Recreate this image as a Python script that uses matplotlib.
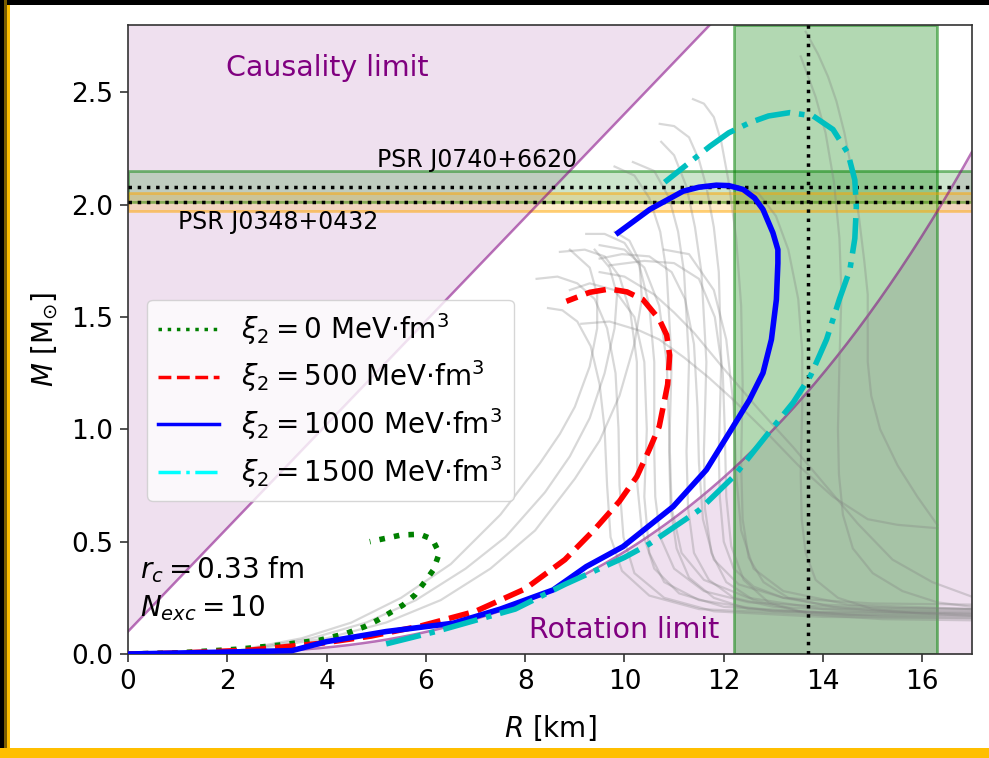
import numpy as np
import matplotlib
matplotlib.use("Agg")
import matplotlib.pyplot as plt
from matplotlib.lines import Line2D
from matplotlib.patches import Rectangle

# ---------------- data ----------------
# Mass-radius sequences for the four xi_2 couplings (R in km, M in solar masses)
xi0_r = [0.0, 1.0, 2.25, 3.06, 3.87, 4.40, 4.77, 5.04, 5.54, 5.78, 5.98, 6.15, 6.27, 6.13, 5.88, 5.51, 4.87]
xi0_m = [0.0, 0.005, 0.022, 0.040, 0.062, 0.092, 0.122, 0.152, 0.218, 0.263, 0.322, 0.374, 0.449, 0.511, 0.533, 0.530, 0.500]

xi500_r = [0.0, 1.0, 2.5, 3.9, 4.9, 5.9, 7.0, 8.0, 8.8, 9.4, 9.9, 10.25, 10.5, 10.7, 10.87, 10.91, 10.85, 10.7,
           10.37, 10.05, 9.7, 9.3, 8.83]
xi500_m = [0.0, 0.004, 0.018, 0.048, 0.08, 0.125, 0.19, 0.29, 0.42, 0.555, 0.68, 0.79, 0.91, 1.013, 1.2, 1.33, 1.42, 1.49,
           1.578, 1.612, 1.625, 1.61, 1.57]

xi1000_r = [0.0, 1.85, 3.3, 4.0, 5.2, 6.55, 7.5, 8.56, 9.23, 9.97, 10.98, 11.65, 12.19, 12.52, 12.79, 12.96, 13.06,
            13.09, 13.09, 12.99, 12.79, 12.62, 12.39, 12.1, 11.85, 11.5, 11.18, 10.51, 9.87]
xi1000_m = [0.0, 0.008, 0.015, 0.055, 0.10, 0.137, 0.20, 0.285, 0.389, 0.478, 0.656, 0.82, 1.013, 1.132, 1.251, 1.40, 1.578,
            1.74, 1.80, 1.875, 1.979, 2.03, 2.068, 2.085, 2.087, 2.078, 2.06, 1.979, 1.875]

xi1500_r = [5.2, 6.2, 7.0, 7.8, 8.8, 10.0, 10.5, 11.5, 12.2, 12.85, 13.4, 13.75, 14.07, 14.33, 14.54, 14.64, 14.67,
            14.64, 14.5, 14.2, 13.8, 13.33, 12.9, 12.52, 12.1, 11.72, 10.81]
xi1500_m = [0.045, 0.10, 0.15, 0.20, 0.31, 0.43, 0.49, 0.64, 0.79, 0.97, 1.12, 1.24, 1.40, 1.58, 1.71, 1.85, 1.99,
            2.11, 2.23, 2.335, 2.395, 2.41, 2.395, 2.365, 2.32, 2.26, 2.10]

xi_values = [0, 500, 1000, 1500]

# Background equation-of-state sequences (R, M)
eos_b01 = [(16.3, 0.575), (15.9, 0.7), (15.5, 0.84), (15.15, 1.0), (14.97, 1.15), (14.9, 1.3), (14.9, 1.45), (14.9, 1.6),
           (14.83, 1.75), (14.72, 1.95), (14.58, 2.15), (14.43, 2.32), (14.27, 2.46), (14.1, 2.57), (13.9, 2.67), (13.65, 2.77)]
eos_b02 = [(17.0, 0.21), (16.3, 0.23), (15.6, 0.28), (15.0, 0.36), (14.6, 0.47), (14.4, 0.62), (14.32, 0.8), (14.3, 1.0),
           (14.33, 1.3), (14.37, 1.6), (14.33, 1.85), (14.22, 2.1), (14.05, 2.32), (13.85, 2.48), (13.55, 2.66)]
eos_b03 = [(17.0, 0.17), (16.0, 0.18), (15.0, 0.2), (14.3, 0.25), (13.85, 0.33), (13.65, 0.45), (13.57, 0.6), (13.55, 0.8),
           (13.58, 1.1), (13.58, 1.35), (13.5, 1.58), (13.3, 1.8), (13.05, 1.95), (12.7, 2.05), (12.2, 2.09)]
eos_b04 = [(17.0, 0.18), (15.5, 0.185), (14.2, 0.21), (13.3, 0.25), (12.8, 0.32), (12.5, 0.43), (12.38, 0.6), (12.35, 0.85),
           (12.38, 1.2), (12.35, 1.55), (12.25, 1.85), (12.1, 2.1), (11.95, 2.28), (11.8, 2.39), (11.6, 2.45), (11.38, 2.47)]
eos_b05 = [(17.0, 0.2), (15.5, 0.205), (14.0, 0.22), (13.2, 0.25), (12.6, 0.3), (12.2, 0.38), (12.0, 0.5), (11.92, 0.7),
           (11.9, 0.9), (11.95, 1.3), (11.9, 1.7), (11.8, 1.9), (11.65, 2.08), (11.5, 2.2), (11.3, 2.3), (11.0, 2.35), (10.71, 2.36)]
eos_b06 = [(17.0, 0.16), (15.2, 0.165), (13.5, 0.19), (12.6, 0.24), (12.05, 0.32), (11.75, 0.45), (11.62, 0.65), (11.6, 0.9),
           (11.65, 1.3), (11.55, 1.7), (11.42, 1.9), (11.25, 2.08), (11.0, 2.22), (10.74, 2.28)]
eos_b07 = [(17.0, 0.19), (15.0, 0.19), (13.0, 0.21), (12.2, 0.25), (11.7, 0.33), (11.4, 0.45), (11.28, 0.65), (11.25, 0.9),
           (11.3, 1.3), (11.2, 1.7), (11.08, 1.88), (10.9, 2.03), (10.6, 2.15), (10.17, 2.19)]
eos_b08 = [(17.0, 0.17), (14.5, 0.175), (12.5, 0.2), (11.8, 0.25), (11.3, 0.34), (11.05, 0.47), (10.93, 0.65), (10.9, 0.9),
           (10.95, 1.3), (10.85, 1.7), (10.72, 1.88), (10.5, 2.03), (10.2, 2.13), (9.8, 2.17)]
eos_b09 = [(17.0, 0.2), (14.5, 0.205), (12.5, 0.23), (11.6, 0.28), (11.0, 0.38), (10.72, 0.52), (10.62, 0.7), (10.6, 0.9),
           (10.6, 1.3), (10.5, 1.55), (10.3, 1.73), (10.0, 1.83), (9.6, 1.87), (9.23, 1.87)]
eos_b10 = [(17.0, 0.18), (14.0, 0.185), (12.0, 0.21), (11.1, 0.27), (10.6, 0.38), (10.35, 0.55), (10.26, 0.75), (10.25, 1.0),
           (10.25, 1.3), (10.12, 1.52), (9.9, 1.68), (9.6, 1.77), (9.2, 1.8), (8.7, 1.79)]
eos_b11 = [(17.0, 0.16), (14.0, 0.165), (11.8, 0.19), (10.8, 0.25), (10.2, 0.36), (9.98, 0.52), (9.9, 0.75), (9.88, 1.0),
           (9.82, 1.25), (9.65, 1.45), (9.4, 1.58), (9.05, 1.65), (8.65, 1.68), (8.23, 1.67)]
eos_b12 = [(17.0, 0.17), (14.0, 0.175), (11.5, 0.2), (10.5, 0.26), (9.95, 0.37), (9.72, 0.52), (9.65, 0.75), (9.6, 1.0),
           (9.5, 1.2), (9.32, 1.37), (9.05, 1.48), (8.75, 1.53), (8.46, 1.54)]
eos_b13 = [(17.0, 0.22), (15.0, 0.225), (13.2, 0.25), (12.3, 0.31), (11.8, 0.42), (11.58, 0.6), (11.5, 0.85), (11.47, 1.1),
           (11.4, 1.38), (11.22, 1.58), (10.95, 1.7), (10.5, 1.77), (9.95, 1.78), (9.5, 1.76)]
eos_b14 = [(17.0, 0.15), (15.2, 0.155), (13.8, 0.175), (12.9, 0.23), (12.4, 0.33), (12.15, 0.48), (12.05, 0.7), (12.02, 1.0),
           (11.98, 1.25), (11.82, 1.5), (11.5, 1.67), (11.0, 1.74), (10.4, 1.75), (9.7, 1.73)]
eos_b15 = [(16.3, 0.56), (15.5, 0.575), (14.9, 0.6), (14.2, 0.7), (13.5, 0.84), (12.8, 1.0), (12.2, 1.13), (11.7, 1.23),
           (11.2, 1.32), (10.7, 1.4), (10.3, 1.44), (9.7, 1.48), (9.13, 1.47)]
eos_b16 = [(17.0, 0.255), (16.2, 0.32), (15.4, 0.42), (14.7, 0.58), (14.07, 0.745), (13.4, 0.92), (12.7, 1.09), (12.0, 1.27),
           (11.4, 1.43), (11.0, 1.52), (10.6, 1.6), (10.0, 1.68), (9.5, 1.7)]
eos_b17 = [(17.0, 0.19), (14.0, 0.2), (12.5, 0.25), (11.6, 0.33), (11.15, 0.45), (10.95, 0.65), (10.9, 1.0), (10.85, 1.3),
           (10.7, 1.55), (10.4, 1.72), (10.0, 1.8), (9.5, 1.82)]
eos_b18 = [(17.0, 0.2), (14.5, 0.22), (13.2, 0.28), (12.6, 0.38), (12.35, 0.55), (12.25, 0.8), (12.2, 1.1), (12.05, 1.4),
           (11.8, 1.62), (11.3, 1.78), (10.8, 1.8)]
eos_b19 = [(17.0, 0.18), (13.0, 0.19), (11.5, 0.24), (10.8, 0.32), (10.5, 0.45), (10.4, 0.7), (10.45, 1.0), (10.4, 1.3),
           (10.2, 1.5), (9.8, 1.62), (9.3, 1.65), (8.9, 1.62)]
eos_a01 = [(2.3, 0.02), (3.5, 0.07), (4.5, 0.14), (5.5, 0.25), (6.5, 0.4), (7.5, 0.62), (8.3, 0.85), (8.7, 0.98), (9.0, 1.1),
           (9.3, 1.28), (9.45, 1.45), (9.45, 1.6), (9.3, 1.72), (8.9, 1.8)]
eos_a02 = [(2.4, 0.02), (3.7, 0.07), (4.8, 0.14), (5.8, 0.24), (6.8, 0.38), (7.6, 0.52), (8.4, 0.72), (8.9, 0.88), (9.3, 1.05),
           (9.6, 1.25), (9.8, 1.45), (9.85, 1.6), (9.7, 1.72), (9.4, 1.8)]
eos_a03 = [(2.5, 0.02), (4.0, 0.07), (5.2, 0.14), (6.3, 0.24), (7.3, 0.38), (8.2, 0.55), (9.0, 0.78), (9.5, 0.95), (9.9, 1.15),
           (10.2, 1.38), (10.35, 1.58), (10.3, 1.75), (10.1, 1.84), (9.8, 1.88)]

eos_curves = [eos_b01, eos_b02, eos_b03, eos_b04, eos_b05, eos_b06, eos_b07, eos_b08,
              eos_b09, eos_b10, eos_b11, eos_b12, eos_b13, eos_b14, eos_b15, eos_b16,
              eos_b17, eos_b18, eos_b19, eos_a01, eos_a02, eos_a03]

# Observational constraints
psr_j0740_mass = 2.08
psr_j0740_err = 0.07
psr_j0348_mass = 2.01
psr_j0348_err = 0.04
nicer_radius = 13.7
nicer_radius_lo = 12.2
nicer_radius_hi = 16.3

# Limits: causality line end points, Kepler rotation coefficient (716 Hz pulsar)
causality_r = [0.0, 17.0]
causality_m = [0.1, 0.1 + 17.0 / 4.34]
rotation_coeff = 0.455

x_ticks = [0, 2, 4, 6, 8, 10, 12, 14, 16]
y_ticks = [0.0, 0.5, 1.0, 1.5, 2.0, 2.5]

# ---------------- figure ----------------
W, H = 989, 758
fig = plt.figure(figsize=(W / 100, H / 100), dpi=100, facecolor="white")


def px_rect(x0, y0, x1, y1, color):
    fig.patches.append(Rectangle((x0 / W, 1 - y1 / H), (x1 - x0) / W, (y1 - y0) / H,
                                 transform=fig.transFigure, facecolor=color,
                                 edgecolor="none", zorder=-10))


# frame decoration around the canvas
px_rect(0, 0, W, 5, "black")
px_rect(0, 0, 4, H, "black")
px_rect(4, 0, 7, H, "#7a5c00")
px_rect(7, 5, 10, H, "#ffbf00")
px_rect(0, 748, W, H, "#ffbf00")

ax = fig.add_axes([128 / W, 1 - 654 / H, (972 - 128) / W, (654 - 25) / H])
ax.set_xlim(0, 17)
ax.set_ylim(0, 2.8)

# causality and rotation limits
cr = np.array(causality_r)
cm = np.array(causality_m)
ax.fill_between(cr, cm, 3.0, color="purple", alpha=0.12, lw=0)
ax.plot(cr, cm, color="purple", alpha=0.55, lw=1.8)

r_rot = np.linspace(0, 17, 400)
m_rot = rotation_coeff * (r_rot / 10.0) ** 3
ax.fill_between(r_rot, 0, m_rot, color="purple", alpha=0.12, lw=0)
ax.plot(r_rot, m_rot, color="purple", alpha=0.55, lw=1.8)

# NICER radius band and pulsar mass bands
ax.axvspan(nicer_radius_lo, nicer_radius_hi, facecolor=(0, 0.5, 0, 0.3),
           edgecolor=(0, 0.5, 0, 0.5), lw=2)
ax.axhspan(psr_j0740_mass - psr_j0740_err, psr_j0740_mass + psr_j0740_err,
           facecolor=(0, 0.5, 0, 0.2), edgecolor=(0, 0.5, 0, 0.5), lw=2)
ax.axhspan(psr_j0348_mass - psr_j0348_err, psr_j0348_mass + psr_j0348_err,
           facecolor=(1, 0.65, 0, 0.2), edgecolor=(1, 0.65, 0, 0.5), lw=2)

# background EOS sequences
for curve in eos_curves:
    rr, mm = zip(*curve)
    ax.plot(rr, mm, color="gray", alpha=0.3, lw=1.6, zorder=2, solid_joinstyle="round")

ax.axhline(psr_j0740_mass, color="black", ls=":", lw=2.5, zorder=3)
ax.axhline(psr_j0348_mass, color="black", ls=":", lw=2.5, zorder=3)
ax.axvline(nicer_radius, color="black", ls=":", lw=2.5, zorder=3)

# xi_2 sequences
ax.plot(xi0_r, xi0_m, color="green", ls=":", lw=4, zorder=4)
ax.plot(xi500_r, xi500_m, color="red", ls="--", lw=4, zorder=4)
ax.plot(xi1000_r, xi1000_m, color="blue", ls="-", lw=4, zorder=4, solid_joinstyle="round")
ax.plot(xi1500_r, xi1500_m, color="c", ls="-.", lw=4, zorder=4)

# annotations
ax.text(4.02, 2.607, "Causality limit", color="purple", fontsize=20.5, ha="center", va="center")
ax.text(10.0, 0.107, "Rotation limit", color="purple", fontsize=20.5, ha="center", va="center")
ax.text(5.01, 2.2, "PSR J0740+6620", fontsize=17, ha="left", va="center")
ax.text(1.0, 1.925, "PSR J0348+0432", fontsize=17, ha="left", va="center")
ax.text(0.24, 0.374, r"$r_c = 0.33$ fm", fontsize=20, ha="left", va="center")
ax.text(0.24, 0.205, r"$N_{exc} = 10$", fontsize=20, ha="left", va="center")

handles = [
    Line2D([], [], color="green", ls=":", lw=2.5),
    Line2D([], [], color="red", ls="--", lw=2.5),
    Line2D([], [], color="blue", ls="-", lw=2.5),
    Line2D([], [], color="cyan", ls="-.", lw=2.5),
]
labels = [r"$\xi_2 = %d$ MeV$\cdot$fm$^3$" % v for v in xi_values]
ax.legend(handles, labels, loc="upper left", bbox_to_anchor=(0.0225, 0.563),
          borderaxespad=0, fontsize=20, handlelength=2.2, labelspacing=0.42)

for spine in ax.spines.values():
    spine.set_linewidth(1.2)
    spine.set_color("#333333")

ax.set_xticks(x_ticks)
ax.set_yticks(y_ticks)
ax.set_xticklabels([str(t) for t in x_ticks])
ax.set_yticklabels(["%.1f" % t for t in y_ticks])
ax.tick_params(labelsize=19, length=5.5, width=1.2, pad=5.3, color="#333333")
ax.set_xlabel(r"$R$ [km]", fontsize=20, labelpad=13)
ax.set_ylabel(r"$M$ [M$_{\odot}$]", fontsize=20, labelpad=8)

fig.savefig("out.png", dpi=100, facecolor="white")
